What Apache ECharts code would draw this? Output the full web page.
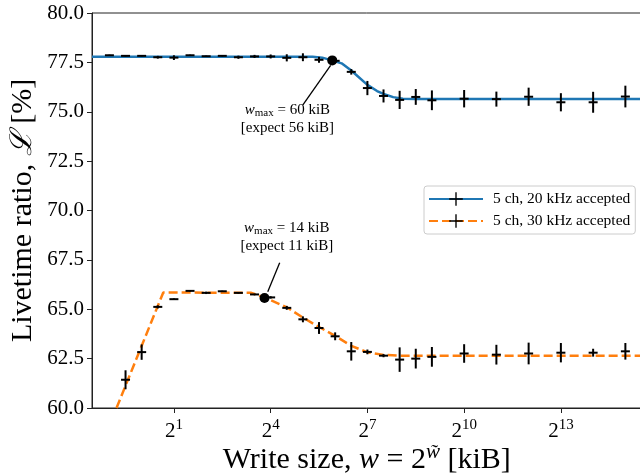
<!DOCTYPE html>
<html>
<head>
<meta charset="utf-8">
<script src="https://cdn.jsdelivr.net/npm/echarts@6/dist/echarts.min.js"></script>
<style>html,body{margin:0;padding:0;background:#fff}#c{width:640px;height:476px}</style>
</head>
<body>
<div id="c"></div>
<script>
// x values are w~ = log2(write size / kiB)
const wt20 = [-1,-0.5,0,0.5,1,1.5,2,2.5,3,3.5,4,4.5,5,5.5,6,6.5,7,7.5,8,8.5,9,10,11,12,13,14,15];
const L20 = [77.86,77.83,77.83,77.76,77.74,77.86,77.81,77.83,77.76,77.80,77.80,77.73,77.76,77.63,77.58,77.02,76.20,75.80,75.60,75.75,75.58,75.66,75.64,75.76,75.48,75.48,75.77];
const E20 = [0.03,0.03,0.03,0.07,0.12,0.03,0.03,0.03,0.08,0.08,0.1,0.18,0.2,0.15,0.1,0.14,0.36,0.33,0.46,0.4,0.5,0.44,0.38,0.46,0.46,0.53,0.55];

const wt30 = [-0.5,0,0.5,1,1.5,2,2.5,3,3.5,4,4.5,5,5.5,6,6.5,7,7.5,8,8.5,9,10,11,12,13,14,15];
const L30 = [61.43,62.83,65.12,65.51,65.93,65.83,65.91,65.83,65.75,65.60,65.07,64.49,64.05,63.63,62.87,62.84,62.65,62.45,62.50,62.59,62.76,62.70,62.76,62.80,62.80,62.87];
const E30 = [0.48,0.39,0.08,0.04,0.03,0.06,0.03,0.04,0.04,0.06,0.1,0.15,0.3,0.2,0.47,0.12,0.08,0.62,0.5,0.5,0.47,0.5,0.55,0.49,0.2,0.42];

// fitted model curves
const fit20X = [-1.54,5.3,5.6,5.9,6.2,6.5,7.0,7.3,7.5,7.8,8.1,8.5,15.5];
const fit20Y = [77.78,77.78,77.74,77.60,77.45,77.09,76.36,76.05,75.90,75.74,75.66,75.65,75.65];
const fit30X = [-0.78,0.67,3.4,3.8,4.5,5.0,5.5,6.0,6.5,7.0,7.5,8.0,15.5];
const fit30Y = [60.0,65.85,65.83,65.60,65.10,64.58,64.10,63.65,63.15,62.82,62.69,62.65,62.65];

// w_max markers
const wmaxX = [5.91, 3.81];
const wmaxY = [77.60, 65.57];
const wmaxText = ['60 kiB', '14 kiB'];
const expectText = ['56 kiB', '11 kiB'];
const annotX = [4.52, 4.50];
const annotY = [74.64, 68.64];
const arrowFromX = [5.00, 4.28];
const arrowFromY = [75.35, 67.35];
const arrowToX = [5.86, 3.91];
const arrowToY = [77.35, 65.89];

const xTicks = [1,4,7,10,13];
const seriesNames = ['5 ch, 20 kHz accepted', '5 ch, 30 kHz accepted'];

const FONT = '"Liberation Serif", "DejaVu Serif", serif';
const PLUS = 'path://M9,0H11V20H9ZM0,9H20V11H0Z';

function zip(a,b,c){ return a.map((v,i)=> c ? [v,b[i],c[i]] : [v,b[i]]); }

function errBars(params, api){
  const x = api.value(0), y = api.value(1), e = api.value(2);
  const c = api.coord([x,y]);
  const lo = api.coord([x,y-e]);
  const hi = api.coord([x,y+e]);
  return {type:'group', children:[
    {type:'line', shape:{x1:lo[0],y1:lo[1],x2:hi[0],y2:hi[1]}, style:{stroke:'#000', lineWidth:2}},
    {type:'line', shape:{x1:c[0]-4.5,y1:c[1],x2:c[0]+4.5,y2:c[1]}, style:{stroke:'#000', lineWidth:2}}
  ]};
}

const chart = echarts.init(document.getElementById('c'), null, {renderer:'canvas'});
chart.setOption({
  animation: false,
  backgroundColor: '#fff',
  textStyle: {fontFamily: FONT},
  grid: {left: 92, top: 13, width: 549.5, height: 395, outerBoundsMode: 'none', containLabel: false,
         show: true, borderColor: '#222', borderWidth: 1, backgroundColor: 'transparent'},
  legend: {
    orient: 'vertical', left: 424, top: 186,
    padding: [5, 5, 5, 4], itemWidth: 54, itemHeight: 17, itemGap: 6,
    borderColor: '#cccccc', borderWidth: 1, borderRadius: 3, backgroundColor: 'rgba(255,255,255,0.85)',
    textStyle: {fontFamily: FONT, fontSize: 15.5, color: '#000', padding: [0,0,0,5]},
    data: [
      {name: seriesNames[0], itemStyle: {color: '#000', borderWidth: 0}},
      {name: seriesNames[1], itemStyle: {color: '#000', borderWidth: 0}}
    ]
  },
  xAxis: {
    type: 'value', min: -1.54, max: 15.5,
    splitLine: {show: false},
    axisLine: {show: true, onZero: false, lineStyle: {color: '#222', width: 1}},
    axisTick: {show: true, customValues: xTicks, length: 5, inside: false, lineStyle: {color: '#222'}},
    axisLabel: {
      customValues: xTicks, margin: 10, color: '#000',
      formatter: v => '{b|2}{s|' + v + '}',
      rich: {
        b: {fontFamily: FONT, fontSize: 21, color: '#000'},
        s: {fontFamily: FONT, fontSize: 15, color: '#000', padding: [0,0,12,0]}
      }
    },
    name: 'Write size, {i|w} = 2{s|w̃} [kiB]',
    nameLocation: 'middle', nameGap: 34, nameMoveOverlap: false,
    nameTextStyle: {
      fontFamily: FONT, fontSize: 30, color: '#000',
      rich: {
        i: {fontFamily: FONT, fontSize: 30, fontStyle: 'italic', color: '#000'},
        s: {fontFamily: FONT, fontSize: 21, fontStyle: 'italic', color: '#000', padding: [0,0,16,0]}
      }
    }
  },
  yAxis: {
    type: 'value', min: 60, max: 80, interval: 2.5,
    splitLine: {show: false},
    axisLine: {show: true, onZero: false, lineStyle: {color: '#222', width: 1}},
    axisTick: {show: true, length: 5, lineStyle: {color: '#222'}},
    axisLabel: {fontFamily: FONT, fontSize: 21, color: '#000', margin: 8, formatter: v => v.toFixed(1)},
    name: 'Livetime ratio, {i|ℒ} [%]',
    nameLocation: 'middle', nameGap: 54, nameRotate: 90, nameMoveOverlap: false,
    nameTextStyle: {
      fontFamily: FONT, fontSize: 30, color: '#000',
      rich: {i: {fontFamily: FONT, fontSize: 30, fontStyle: 'italic', color: '#000'}}
    }
  },
  series: [
    {
      name: seriesNames[0], type: 'line', data: zip(fit20X, fit20Y),
      symbol: PLUS, showSymbol: false, symbolSize: 14,
      lineStyle: {color: '#1f77b4', width: 2.5}, itemStyle: {color: '#1f77b4'},
      clip: true, z: 2, silent: true
    },
    {
      name: seriesNames[1], type: 'line', data: zip(fit30X, fit30Y),
      symbol: PLUS, showSymbol: false, symbolSize: 14,
      lineStyle: {color: '#ff7f0e', width: 2.5, type: [9, 4]}, itemStyle: {color: '#ff7f0e'},
      clip: true, z: 2, silent: true
    },
    {
      name: 'err20', type: 'custom', renderItem: errBars, data: zip(wt20, L20, E20),
      encode: {x: 0, y: 1}, clip: true, z: 3, silent: true
    },
    {
      name: 'err30', type: 'custom', renderItem: errBars, data: zip(wt30, L30, E30),
      encode: {x: 0, y: 1}, clip: true, z: 3, silent: true
    },
    {
      name: 'wmax', type: 'scatter', data: zip(wmaxX, wmaxY),
      symbol: 'circle', symbolSize: 10, itemStyle: {color: '#000', opacity: 1}, z: 5, silent: true,
      markLine: {
        silent: true, symbol: ['none', 'arrow'], symbolSize: [0, 9],
        lineStyle: {color: '#000', width: 1.3, type: 'solid'},
        label: {show: false},
        data: arrowFromX.map((v,i)=>[{coord:[v, arrowFromY[i]]},{coord:[arrowToX[i], arrowToY[i]]}])
      },
      markPoint: {
        silent: true, symbol: 'rect', symbolSize: 1, itemStyle: {color: 'rgba(0,0,0,0)'},
        label: {
          show: true, position: 'inside', color: '#000', fontFamily: FONT, fontSize: 15, lineHeight: 18, align: 'center',
          rich: {
            i: {fontFamily: FONT, fontSize: 15, fontStyle: 'italic', color: '#000', lineHeight: 18},
            sub: {fontFamily: FONT, fontSize: 11, color: '#000', padding: [6,0,0,0], lineHeight: 18},
            t: {fontFamily: FONT, fontSize: 15, color: '#000', lineHeight: 18}
          }
        },
        data: annotX.map((v,i)=>({
          coord: [v, annotY[i]],
          label: {formatter: '{i|w}{sub|max}{t| = ' + wmaxText[i] + '}\n{t|[expect ' + expectText[i] + ']}'}
        }))
      }
    }
  ]
});
</script>
</body>
</html>
